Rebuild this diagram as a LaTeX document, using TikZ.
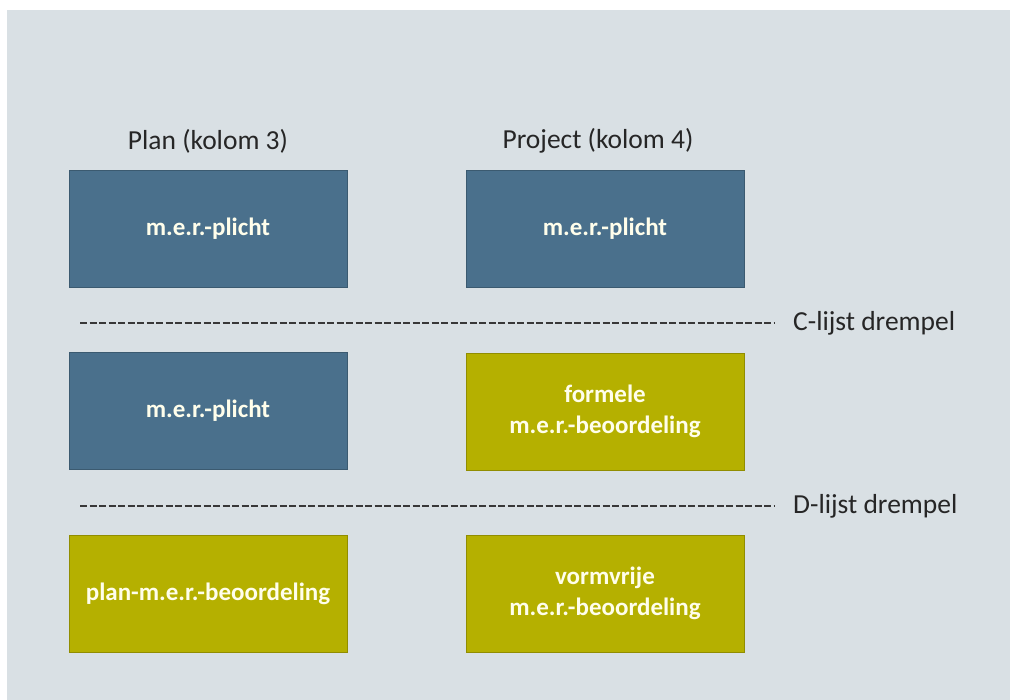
\documentclass[tikz,border=0pt]{standalone}
\usepackage{fontspec}
\setmainfont{Carlito}
\definecolor{achtergrond}{HTML}{D9E0E4}
\definecolor{merblauw}{HTML}{4A708C}
\definecolor{beoordeling}{HTML}{B5B000}
\definecolor{tekstgrijs}{HTML}{262626}

\begin{document}
\begin{tikzpicture}[x=1pt, y=-1pt,
    vak/.style={draw=#1!80!black, line width=0.8pt, fill=#1, minimum width=278pt, minimum height=117pt,
        inner sep=0pt, align=center, text=white!92!yellow, font=\bfseries\fontsize{25}{31}\selectfont},
    kop/.style={text=tekstgrijs, font=\fontsize{27.5}{32}\selectfont},
    drempel/.style={line width=1.5pt, black!78, dash pattern=on 7pt off 2.5pt}]
    \useasboundingbox (0,0) rectangle (1010,700);
    \fill[achtergrond] (7,10) rectangle (1010,700);
    % kolomkoppen
    \node[kop] (plankop) at (208,141) {Plan (kolom 3)};
    \node[kop] (projectkop) at (598,141) {Project (kolom 4)};
    % vakken
    \node[vak=merblauw] (plan-c) at (208,228.5) {m.e.r.-plicht};
    \node[vak=merblauw] (project-c) at (605,228.5) {m.e.r.-plicht};
    \node[vak=merblauw] (plan-d) at (208,410.5) {m.e.r.-plicht};
    \node[vak=beoordeling] (project-d) at (605,411.5) {formele\\m.e.r.-beoordeling};
    \node[vak=beoordeling] (plan-rest) at (208,593.5) {plan-m.e.r.-beoordeling};
    \node[vak=beoordeling] (project-rest) at (605,593.5) {vormvrije\\m.e.r.-beoordeling};
    % drempels
    \coordinate (c-begin) at (80,323);
    \coordinate (c-eind) at (775,323);
    \coordinate (d-begin) at (80,506);
    \coordinate (d-eind) at (775,506);
    \draw[drempel] (c-begin) -- (c-eind);
    \draw[drempel] (d-begin) -- (d-eind);
    \node[kop, anchor=west, inner sep=0pt] (c-drempel) at (793,323) {C-lijst drempel};
    \node[kop, anchor=west, inner sep=0pt] (d-drempel) at (793,506) {D-lijst drempel};
\end{tikzpicture}
\end{document}
